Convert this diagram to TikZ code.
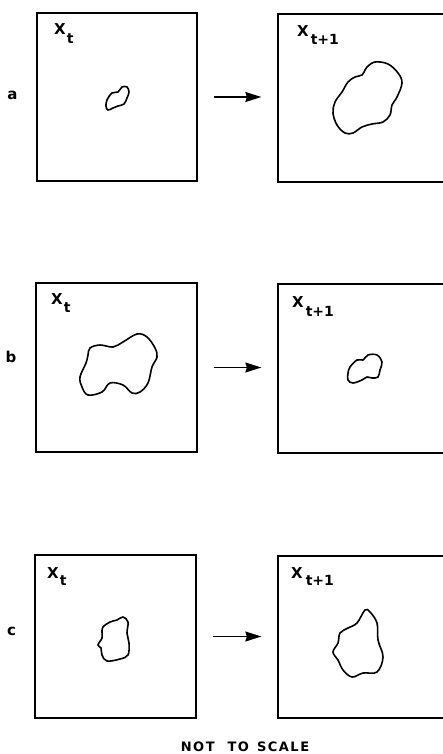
\documentclass[tikz,border=0pt]{standalone}
\usepackage{fontspec}
\setmainfont{DejaVu Sans}
\usetikzlibrary{arrows.meta}
\tikzset{
  panel/.style={draw, line width=1.3pt, inner sep=0pt},
  arr/.style={line width=1.3pt, -{Stealth[length=16pt,width=10pt,inset=1.5pt]}, shorten <=16pt, shorten >=16pt},
  blob/.style={line width=1.6pt, smooth cycle, tension=0.6},
  lab/.style={anchor=base west, inner sep=0pt, font=\bfseries\fontsize{15}{15}\selectfont},
  rowlab/.style={anchor=base, inner sep=0pt, font=\bfseries\fontsize{15}{15}\selectfont},
}
\newcommand\xsub[3]{X\kern#2\raisebox{-#1}{\fontsize{14}{14}\selectfont #3}}
\begin{document}
\begin{tikzpicture}[x=1pt,y=-1pt]
\useasboundingbox (0,0) rectangle (442,754);
% panels
\node[panel, minimum width=160pt, minimum height=168pt] (a1) at (117,97) {};
\node[panel, minimum width=166pt, minimum height=168pt] (a2) at (361,98) {};
\node[panel, minimum width=161pt, minimum height=169pt] (b1) at (116.5,367.5) {};
\node[panel, minimum width=166pt, minimum height=169pt] (b2) at (361,368.5) {};
\node[panel, minimum width=161pt, minimum height=163pt] (c1) at (115.5,636.5) {};
\node[panel, minimum width=166pt, minimum height=162pt] (c2) at (361,637) {};
% arrows
\draw[arr] (a1.east) -- (a1.east -| a2.west);
\draw[arr] (b1.east) -- (b1.east -| b2.west);
\draw[arr] (c1.east) -- (c1.east -| c2.west);
% row labels
\node[rowlab] (la) at (12.5,100) {a};
\node[rowlab] (lb) at (11,362) {b};
\node[rowlab] (lc) at (11.5,635) {c};
% panel labels
\node[lab] (ta1) at (54,34.5) {\xsub{9pt}{1pt}{t}};
\node[lab] (ta2) at (297,36.5) {\xsub{8pt}{2pt}{t+1}};
\node[lab] (tb1) at (51,304.5) {\xsub{8pt}{1pt}{t}};
\node[lab] (tb2) at (292,307.5) {\xsub{9pt}{2pt}{t+1}};
\node[lab] (tc1) at (47,578.5) {\xsub{7pt}{1pt}{t}};
\node[lab] (tc2) at (291,578.5) {\xsub{7pt}{3pt}{t+1}};
% blobs
\draw[blob] plot coordinates {(107,100) (112,93) (118,92) (122,87) (127,87) (129,92) (127,98) (124,104) (118,106) (113,108) (108,110) (106,106)};
\draw[blob] plot coordinates {(367,67) (375,62) (388,64) (398,73) (402,83) (397,97) (392,105) (390,115) (383,122) (372,124) (362,127) (353,133) (345,133) (337,125) (333,113) (335,102) (342,92) (348,82) (355,77) (362,75) (365,70)};
\draw[blob] plot coordinates {(90,348) (100,345) (113,347) (123,342) (137,334) (147,337) (155,348) (157,357) (152,367) (148,383) (140,392) (132,393) (123,385) (110,383) (102,392) (88,395) (82,387) (80,377) (86,363) (88,355)};
\draw[blob] plot coordinates {(350,367) (357,360) (363,360) (368,355) (377,355) (382,362) (380,370) (378,377) (372,378) (367,377) (362,380) (353,383) (348,380) (348,373)};
\draw[blob] plot coordinates {(103,627) (110,622) (117,620) (123,617) (128,622) (127,633) (129,643) (128,655) (120,659) (107,661) (102,655) (101,648) (98,645) (102,638) (102,632)};
\draw[blob] plot coordinates {(340,633) (348,628) (357,623) (365,610) (370,612) (377,623) (378,640) (383,657) (377,672) (363,673) (352,677) (343,670) (338,660) (333,652) (338,643)};
% caption
\node[anchor=base, inner sep=0pt, font=\bfseries\fontsize{13}{13}\selectfont] (cap) at (245,751) {N\kern1.5pt O\kern1.5pt T\hspace{13pt}T\kern1.5pt O\hspace{8pt}S\kern1.5pt C\kern1.5pt A\kern1.5pt L\kern1.5pt E};
\end{tikzpicture}
\end{document}
